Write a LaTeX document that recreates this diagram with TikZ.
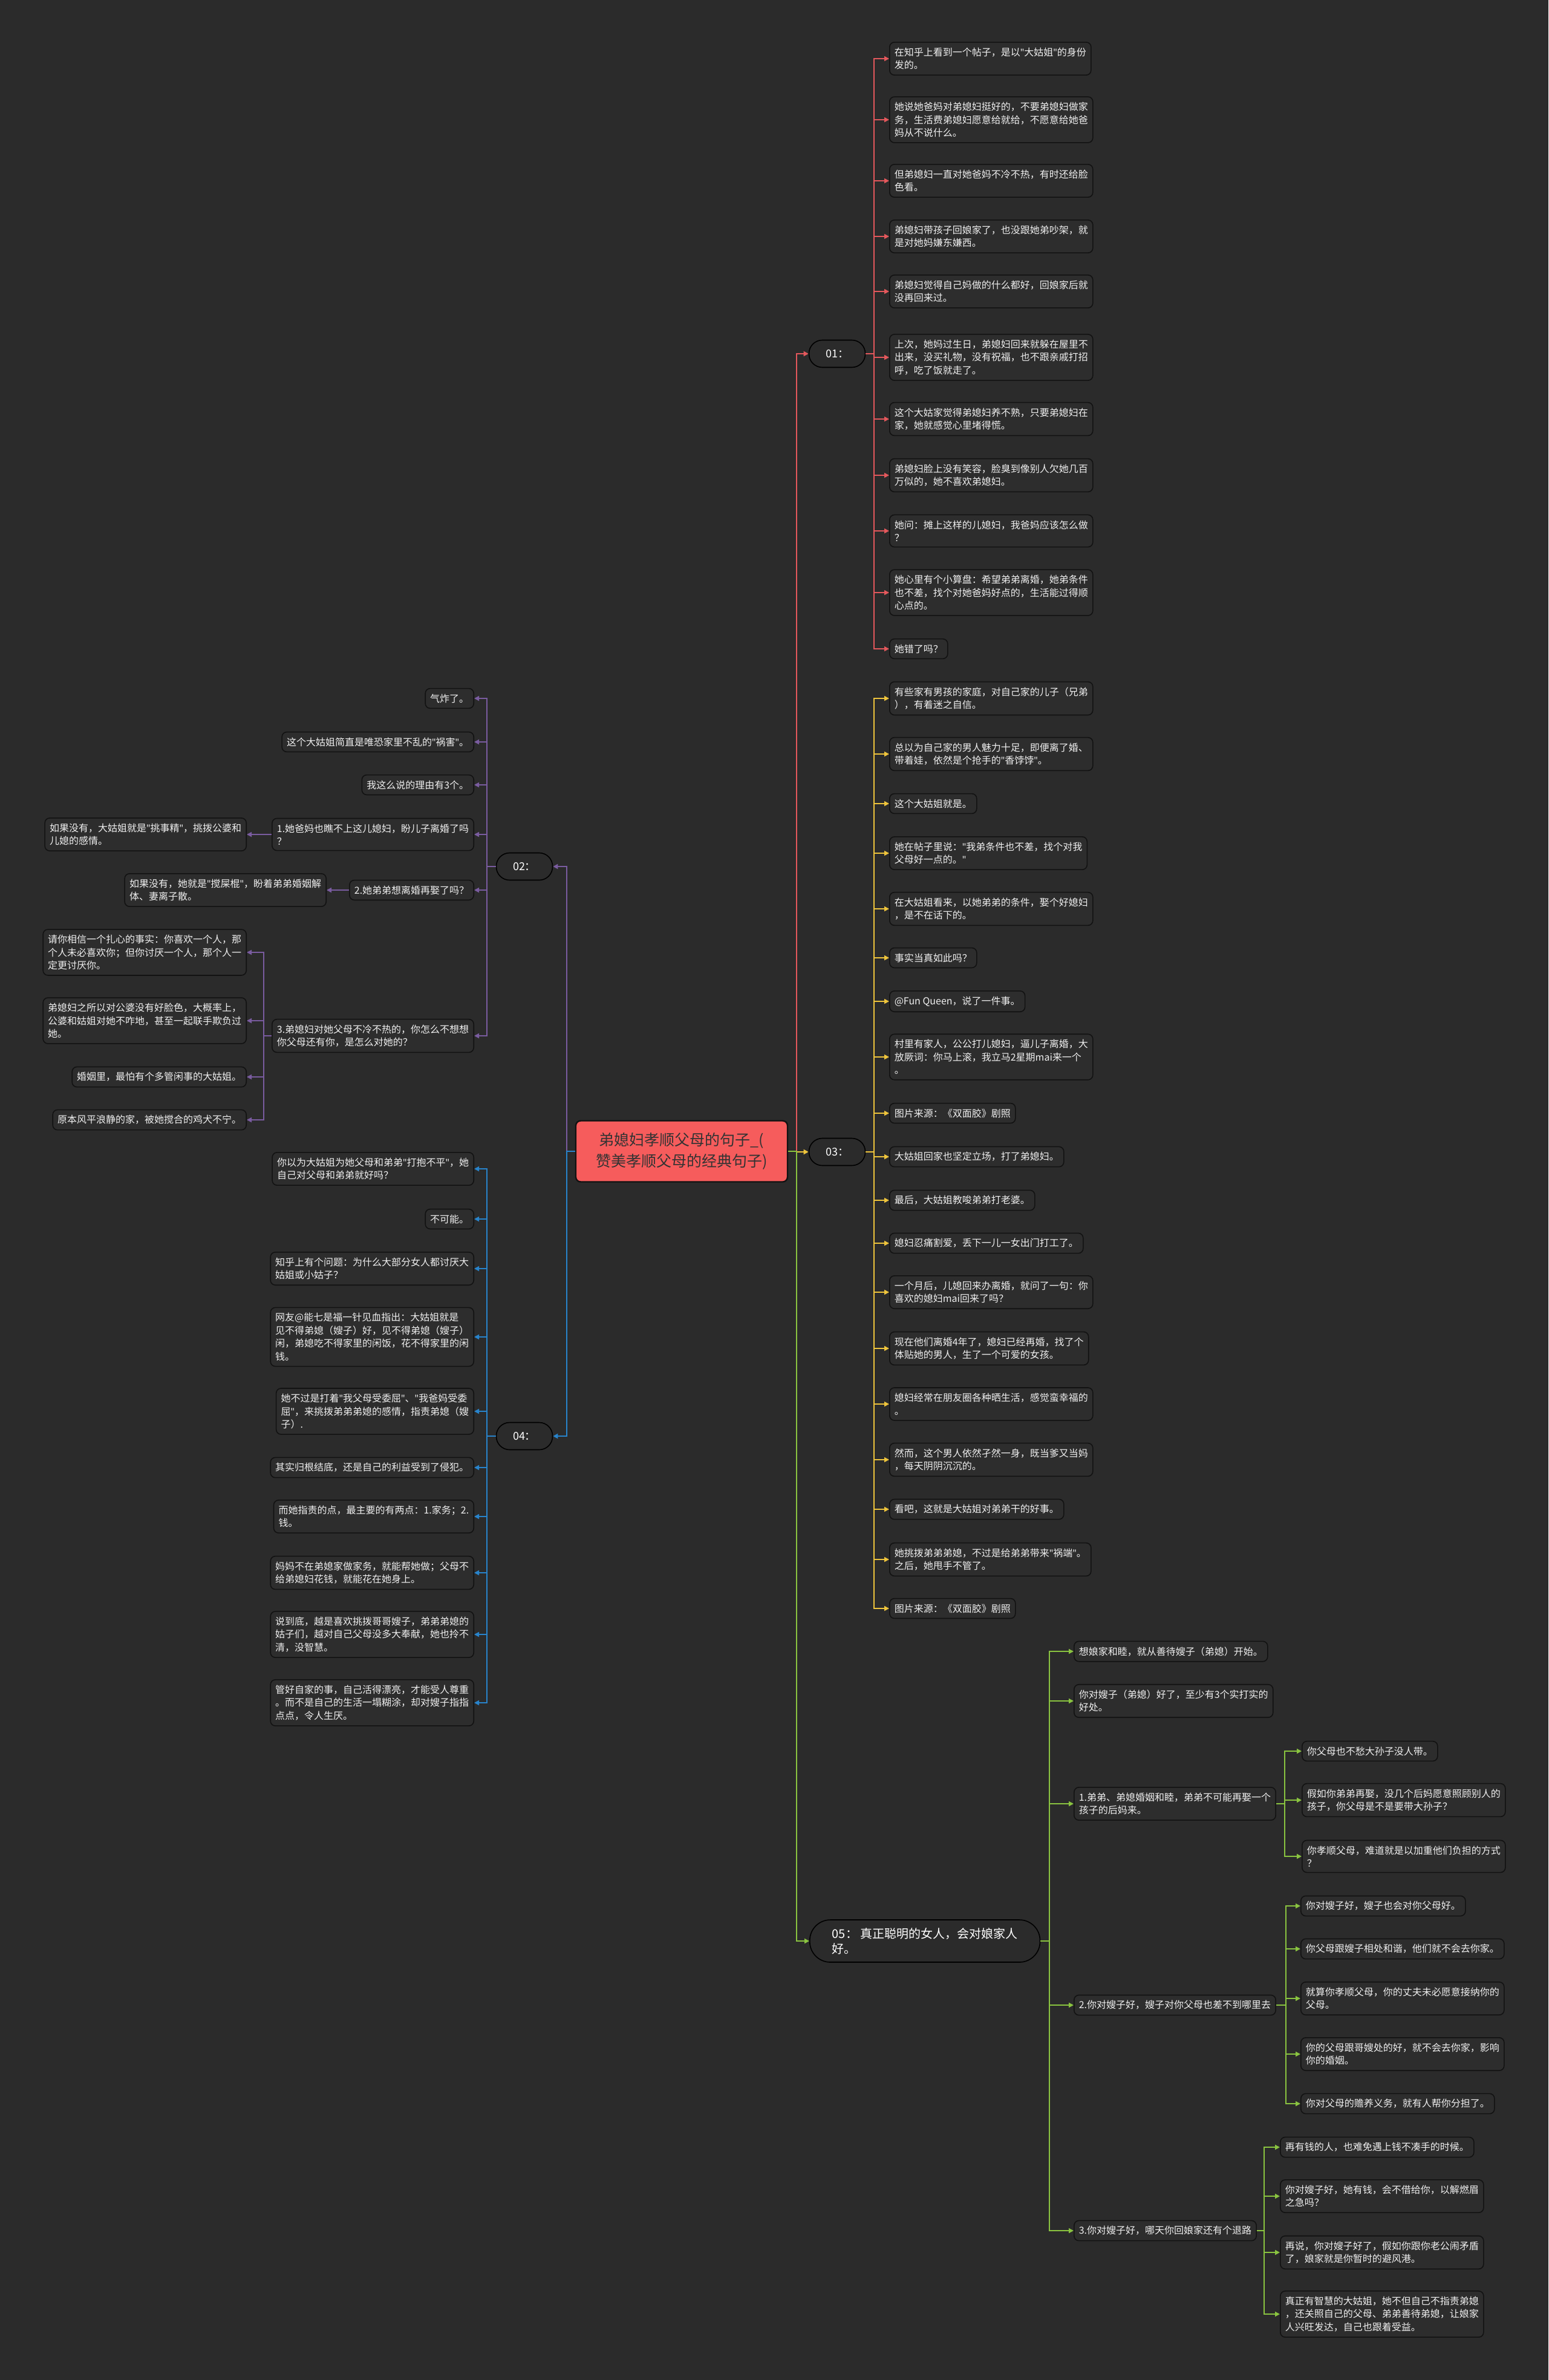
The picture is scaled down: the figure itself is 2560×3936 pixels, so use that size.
\documentclass[tikz,border=0pt]{standalone}
\usepackage{fontspec}
\setmainfont{Noto Sans CJK SC}
\newfontfamily\quotefont{Noto Sans}
\newcommand{\dq}{{\quotefont"}}
\usetikzlibrary{arrows.meta}
\definecolor{bgc}{RGB}{43,43,43}
\definecolor{boxc}{RGB}{45,45,45}
\definecolor{edgec}{RGB}{18,18,18}
\definecolor{rootc}{RGB}{246,92,92}
\definecolor{c01}{RGB}{228,88,92}
\definecolor{c02}{RGB}{122,92,160}
\definecolor{c03}{RGB}{238,196,60}
\definecolor{c04}{RGB}{40,132,204}
\definecolor{c05}{RGB}{138,196,64}
\tikzset{
  >={Triangle[length=4pt,width=4pt]},
  leaf/.style={draw=edgec, fill=boxc, line width=0.8pt, rounded corners=4pt,
    inner xsep=4pt, inner ysep=4.5pt, text=white!94!black, align=left,
    font=\fontsize{8pt}{10.75pt}\selectfont},
  topic/.style={draw=black, fill=bgc, line width=0.8pt, rounded corners=11pt,
    minimum width=46.5pt, minimum height=22.5pt, text=white,
    font=\fontsize{9pt}{11pt}\selectfont},
  root/.style={draw=edgec, fill=rootc, line width=1.2pt, rounded corners=4pt,
    minimum width=175pt, minimum height=50.5pt, text=black!80, align=center,
    font=\fontsize{12.5pt}{17.5pt}\selectfont},
  link/.style={->, line width=0.85pt},
  trunk/.style={->, line width=1.1pt},
}
\begin{document}
\begin{tikzpicture}[x=0.5pt,y=-0.5pt]
  \fill[bgc] (0,0) rectangle (2560,3936);
  \useasboundingbox (0,0) rectangle (2560,3936);

  % centre
  \node[root] (root) at (1127,1904) {弟媳妇孝顺父母的句子\_(\\赞美孝顺父母的经典句子)};

  % main topics
  \node[topic] (t01) at (1384,585)  {01：};
  \node[topic] (t03) at (1384,1905) {03：};
  \node[topic] (t02) at (867,1433)  {02：};
  \node[topic] (t04) at (867,2375)  {04：};
  \node[topic, anchor=west, align=left, inner xsep=18.5pt, rounded corners=17pt,
        minimum height=35pt, font=\fontsize{10pt}{12.5pt}\selectfont]
        (t05) at (1338,3210) {05：\ 真正聪明的女人，会对娘家人\\好。};

  % 01
  \node[leaf, anchor=west] (a1)  at (1470,97)   {在知乎上看到一个帖子，是以\dq 大姑姐\dq 的身份\\发的。};
  \node[leaf, anchor=west] (a2)  at (1470,198)  {她说她爸妈对弟媳妇挺好的，不要弟媳妇做家\\务，生活费弟媳妇愿意给就给，不愿意给她爸\\妈从不说什么。};
  \node[leaf, anchor=west] (a3)  at (1470,299)  {但弟媳妇一直对她爸妈不冷不热，有时还给脸\\色看。};
  \node[leaf, anchor=west] (a4)  at (1470,391)  {弟媳妇带孩子回娘家了，也没跟她弟吵架，就\\是对她妈嫌东嫌西。};
  \node[leaf, anchor=west] (a5)  at (1470,482)  {弟媳妇觉得自己妈做的什么都好，回娘家后就\\没再回来过。};
  \node[leaf, anchor=west] (a6)  at (1470,591)  {上次，她妈过生日，弟媳妇回来就躲在屋里不\\出来，没买礼物，没有祝福，也不跟亲戚打招\\呼，吃了饭就走了。};
  \node[leaf, anchor=west] (a7)  at (1470,693)  {这个大姑家觉得弟媳妇养不熟，只要弟媳妇在\\家，她就感觉心里堵得慌。};
  \node[leaf, anchor=west] (a8)  at (1470,786)  {弟媳妇脸上没有笑容，脸臭到像别人欠她几百\\万似的，她不喜欢弟媳妇。};
  \node[leaf, anchor=west] (a9)  at (1470,878)  {她问：摊上这样的儿媳妇，我爸妈应该怎么做\\？};
  \node[leaf, anchor=west] (a10) at (1470,980)  {她心里有个小算盘：希望弟弟离婚，她弟条件\\也不差，找个对她爸妈好点的，生活能过得顺\\心点的。};
  \node[leaf, anchor=west] (a11) at (1470,1073) {她错了吗？};

  % 03
  \node[leaf, anchor=west] (b1)  at (1470,1155) {有些家有男孩的家庭，对自己家的儿子（兄弟\\），有着迷之自信。};
  \node[leaf, anchor=west] (b2)  at (1470,1247) {总以为自己家的男人魅力十足，即便离了婚、\\带着娃，依然是个抢手的\dq 香饽饽\dq 。};
  \node[leaf, anchor=west] (b3)  at (1470,1329) {这个大姑姐就是。};
  \node[leaf, anchor=west] (b4)  at (1470,1411) {她在帖子里说：\dq 我弟条件也不差，找个对我\\父母好一点的。\dq};
  \node[leaf, anchor=west] (b5)  at (1470,1503) {在大姑姐看来，以她弟弟的条件，娶个好媳妇\\，是不在话下的。};
  \node[leaf, anchor=west] (b6)  at (1470,1584) {事实当真如此吗？};
  \node[leaf, anchor=west] (b7)  at (1470,1656) {@Fun Queen，说了一件事。};
  \node[leaf, anchor=west] (b8)  at (1470,1748) {村里有家人，公公打儿媳妇，逼儿子离婚，大\\放厥词：你马上滚，我立马2星期mai来一个\\。};
  \node[leaf, anchor=west] (b9)  at (1470,1841) {图片来源：《双面胶》剧照};
  \node[leaf, anchor=west] (b10) at (1470,1913) {大姑姐回家也坚定立场，打了弟媳妇。};
  \node[leaf, anchor=west] (b11) at (1470,1985) {最后，大姑姐教唆弟弟打老婆。};
  \node[leaf, anchor=west] (b12) at (1470,2056) {媳妇忍痛割爱，丢下一儿一女出门打工了。};
  \node[leaf, anchor=west] (b13) at (1470,2137) {一个月后，儿媳回来办离婚，就问了一句：你\\喜欢的媳妇mai回来了吗？};
  \node[leaf, anchor=west] (b14) at (1470,2230) {现在他们离婚4年了，媳妇已经再婚，找了个\\体贴她的男人，生了一个可爱的女孩。};
  \node[leaf, anchor=west] (b15) at (1470,2322) {媳妇经常在朋友圈各种晒生活，感觉蛮幸福的\\。};
  \node[leaf, anchor=west] (b16) at (1470,2414) {然而，这个男人依然孑然一身，既当爹又当妈\\，每天阴阴沉沉的。};
  \node[leaf, anchor=west] (b17) at (1470,2496) {看吧，这就是大姑姐对弟弟干的好事。};
  \node[leaf, anchor=west] (b18) at (1470,2579) {她挑拨弟弟弟媳，不过是给弟弟带来\dq 祸端\dq 。\\之后，她甩手不管了。};
  \node[leaf, anchor=west] (b19) at (1470,2660) {图片来源：《双面胶》剧照};

  % 02
  \node[leaf, anchor=east] (p1) at (784,1155) {气炸了。};
  \node[leaf, anchor=east] (p2) at (784,1227) {这个大姑姐简直是唯恐家里不乱的\dq 祸害\dq 。};
  \node[leaf, anchor=east] (p3) at (784,1298) {我这么说的理由有3个。};
  \node[leaf, anchor=east] (p4) at (784,1380) {1.她爸妈也瞧不上这儿媳妇，盼儿子离婚了吗\\？};
  \node[leaf, anchor=east] (p5) at (784,1472) {2.她弟弟想离婚再娶了吗？};
  \node[leaf, anchor=east] (p6) at (784,1713) {3.弟媳妇对她父母不冷不热的，你怎么不想想\\你父母还有你，是怎么对她的？};
  \node[leaf, anchor=east] (p4a) at (408,1380) {如果没有，大姑姐就是\dq 挑事精\dq ，挑拨公婆和\\儿媳的感情。};
  \node[leaf, anchor=east] (p5a) at (540,1472) {如果没有，她就是\dq 搅屎棍\dq ，盼着弟弟婚姻解\\体、妻离子散。};
  \node[leaf, anchor=east] (p6a) at (408,1575) {请你相信一个扎心的事实：你喜欢一个人，那\\个人未必喜欢你；但你讨厌一个人，那个人一\\定更讨厌你。};
  \node[leaf, anchor=east] (p6b) at (408,1688) {弟媳妇之所以对公婆没有好脸色，大概率上，\\公婆和姑姐对她不咋地，甚至一起联手欺负过\\她。};
  \node[leaf, anchor=east] (p6c) at (408,1781) {婚姻里，最怕有个多管闲事的大姑姐。};
  \node[leaf, anchor=east] (p6d) at (408,1852) {原本风平浪静的家，被她搅合的鸡犬不宁。};

  % 04
  \node[leaf, anchor=east] (q1)  at (784,1933) {你以为大姑姐为她父母和弟弟\dq 打抱不平\dq ，她\\自己对父母和弟弟就好吗？};
  \node[leaf, anchor=east] (q2)  at (784,2016) {不可能。};
  \node[leaf, anchor=east] (q3)  at (784,2098) {知乎上有个问题：为什么大部分女人都讨厌大\\姑姐或小姑子？};
  \node[leaf, anchor=east] (q4)  at (784,2211) {网友@能七是福一针见血指出：大姑姐就是\\见不得弟媳（嫂子）好，见不得弟媳（嫂子）\\闲，弟媳吃不得家里的闲饭，花不得家里的闲\\钱。};
  \node[leaf, anchor=east] (q5)  at (784,2334) {她不过是打着\dq 我父母受委屈\dq 、\dq 我爸妈受委\\屈\dq ，来挑拨弟弟弟媳的感情，指责弟媳（嫂\\子）.};
  \node[leaf, anchor=east] (q6)  at (784,2427) {其实归根结底，还是自己的利益受到了侵犯。};
  \node[leaf, anchor=east] (q7)  at (784,2508) {而她指责的点，最主要的有两点：1.家务；2.\\钱。};
  \node[leaf, anchor=east] (q8)  at (784,2601) {妈妈不在弟媳家做家务，就能帮她做；父母不\\给弟媳妇花钱，就能花在她身上。};
  \node[leaf, anchor=east] (q9)  at (784,2703) {说到底，越是喜欢挑拨哥哥嫂子，弟弟弟媳的\\姑子们，越对自己父母没多大奉献，她也拎不\\清，没智慧。};
  \node[leaf, anchor=east] (q10) at (784,2816) {管好自家的事，自己活得漂亮，才能受人尊重\\。而不是自己的生活一塌糊涂，却对嫂子指指\\点点，令人生厌。};

  % 05
  \node[leaf, anchor=west] (e1) at (1775,2731) {想娘家和睦，就从善待嫂子（弟媳）开始。};
  \node[leaf, anchor=west] (e2) at (1775,2813) {你对嫂子（弟媳）好了，至少有3个实打实的\\好处。};
  \node[leaf, anchor=west] (e3) at (1775,2983) {1.弟弟、弟媳婚姻和睦，弟弟不可能再娶一个\\孩子的后妈来。};
  \node[leaf, anchor=west] (e4) at (1775,3316) {2.你对嫂子好，嫂子对你父母也差不到哪里去};
  \node[leaf, anchor=west] (e5) at (1775,3689) {3.你对嫂子好，哪天你回娘家还有个退路};
  \node[leaf, anchor=west] (e3a) at (2152,2896) {你父母也不愁大孙子没人带。};
  \node[leaf, anchor=west] (e3b) at (2152,2977) {假如你弟弟再娶，没几个后妈愿意照顾别人的\\孩子，你父母是不是要带大孙子？};
  \node[leaf, anchor=west] (e3c) at (2152,3070) {你孝顺父母，难道就是以加重他们负担的方式\\？};
  \node[leaf, anchor=west] (e4a) at (2150,3152) {你对嫂子好，嫂子也会对你父母好。};
  \node[leaf, anchor=west] (e4b) at (2150,3223) {你父母跟嫂子相处和谐，他们就不会去你家。};
  \node[leaf, anchor=west] (e4c) at (2150,3305) {就算你孝顺父母，你的丈夫未必愿意接纳你的\\父母。};
  \node[leaf, anchor=west] (e4d) at (2150,3397) {你的父母跟哥嫂处的好，就不会去你家，影响\\你的婚姻。};
  \node[leaf, anchor=west] (e4e) at (2150,3479) {你对父母的赡养义务，就有人帮你分担了。};
  \node[leaf, anchor=west] (e5a) at (2116,3551) {再有钱的人，也难免遇上钱不凑手的时候。};
  \node[leaf, anchor=west] (e5b) at (2116,3632) {你对嫂子好，她有钱，会不借给你，以解燃眉\\之急吗？};
  \node[leaf, anchor=west] (e5c) at (2116,3725) {再说，你对嫂子好了，假如你跟你老公闹矛盾\\了，娘家就是你暂时的避风港。};
  \node[leaf, anchor=west] (e5d) at (2116,3827) {真正有智慧的大姑姐，她不但自己不指责弟媳\\，还关照自己的父母、弟弟善待弟媳，让娘家\\人兴旺发达，自己也跟着受益。};

  % connectors
  \draw[trunk, c01] (root.east) -- ++(7pt,0) |- (t01.west);
  \draw[trunk, c03] (root.east) -- ++(7pt,0) |- (t03.west);
  \draw[trunk, c05] (root.east) -- ++(7pt,0) |- (t05.west);
  \draw[trunk, c02] (root.west) -- ++(-7pt,0) |- (t02.east);
  \draw[trunk, c04] (root.west) -- ++(-7pt,0) |- (t04.east);

  \foreach \i in {1,...,11}
    \draw[link, c01] (t01.east) -- ++(7pt,0) |- (a\i.west);
  \foreach \i in {1,...,19}
    \draw[link, c03] (t03.east) -- ++(7pt,0) |- (b\i.west);
  \foreach \i in {1,...,6}
    \draw[link, c02] (t02.west) -- ++(-7.5pt,0) |- (p\i.east);
  \draw[link, c02] (p4.west) -- (p4a.east);
  \draw[link, c02] (p5.west) -- (p5a.east);
  \foreach \j in {a,b,c,d}
    \draw[link, c02] (p6.west) -- ++(-6.5pt,0) |- (p6\j.east);
  \foreach \i in {1,...,10}
    \draw[link, c04] (t04.west) -- ++(-7.5pt,0) |- (q\i.east);
  \foreach \i in {1,...,5}
    \draw[link, c05] (t05.east) -- ++(7.5pt,0) |- (e\i.west);
  \foreach \j in {a,b,c}
    \draw[link, c05] (e3.east) -- ++(7pt,0) |- (e3\j.west);
  \foreach \j in {a,b,c,d,e}
    \draw[link, c05] (e4.east) -- ++(8pt,0) |- (e4\j.west);
  \foreach \j in {a,b,c,d}
    \draw[link, c05] (e5.east) -- ++(6pt,0) |- (e5\j.west);
\end{tikzpicture}
\end{document}
